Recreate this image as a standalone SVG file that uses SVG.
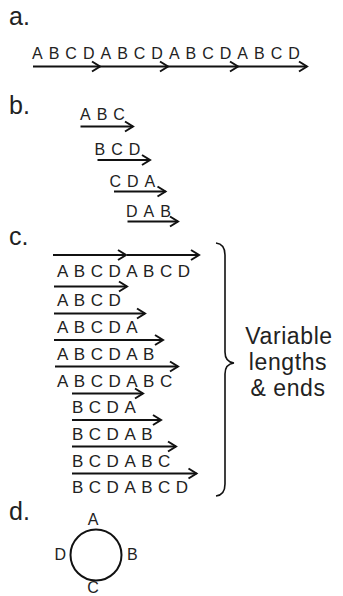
<svg xmlns="http://www.w3.org/2000/svg" width="343" height="596" viewBox="0 0 343 596">
<style>
.lbl{font-family:"Liberation Sans",Arial,sans-serif;font-size:25px;fill:#222}
.sa{font-family:"Liberation Sans",Arial,sans-serif;font-size:16px;letter-spacing:6px;fill:#222}
.sc{font-family:"Liberation Sans",Arial,sans-serif;font-size:17px;letter-spacing:5.5px;fill:#222}
.sd{font-family:"Liberation Sans",Arial,sans-serif;font-size:16px;fill:#222}
.sv{font-family:"Liberation Sans",Arial,sans-serif;font-size:23px;letter-spacing:0.6px;fill:#222;text-anchor:middle}
.arr{stroke:#111;stroke-width:2.2;fill:none;marker-end:url(#ah)}
</style>
<defs>
<marker id="ah" viewBox="-10 -7 12 14" refX="0" refY="0" markerWidth="12" markerHeight="14" markerUnits="userSpaceOnUse" orient="auto">
<path d="M-8,-5 L0,0 L-8,5" fill="none" stroke="#111" stroke-width="2"/>
</marker>
</defs>
<rect width="343" height="596" fill="#fff"/>

<g id="label-a"><text class="lbl" x="9" y="25">a.</text></g>
<g id="label-b"><text class="lbl" x="9" y="114">b.</text></g>
<g id="label-c"><text class="lbl" x="9" y="245">c.</text></g>
<g id="label-d"><text class="lbl" x="9" y="520">d.</text></g>

<g id="section-a">
<text class="sa" x="32" y="59">ABCDABCDABCDABCD</text>
</g>

<g id="section-b">
<text class="sa" x="80" y="120">ABC</text>
<text class="sa" x="94.5" y="155">BCD</text>
<text class="sa" x="109.5" y="187">CDA</text>
<text class="sa" x="126" y="217">DAB</text>
</g>

<g id="section-c">
<text class="sc" x="57" y="277">ABCDABCD</text>
<text class="sc" x="57" y="306">ABCD</text>
<text class="sc" x="57" y="333">ABCDA</text>
<text class="sc" x="57" y="360">ABCDAB</text>
<text class="sc" x="57" y="387">ABCDABC</text>
<text class="sc" x="72" y="413">BCDA</text>
<text class="sc" x="72" y="440">BCDAB</text>
<text class="sc" x="72" y="467">BCDABC</text>
<text class="sc" x="72" y="493">BCDABCD</text>
</g>

<g id="brace-label">
<path d="M216,243 Q225,244 225,255 L225,352 Q225,362 234,363 Q225,364 225,374 L225,484 Q225,495 216,496" fill="none" stroke="#111" stroke-width="1.6"/>
<text class="sv" x="289" y="344">Variable</text>
<text class="sv" x="288" y="370">lengths</text>
<text class="sv" x="288" y="396">&amp; ends</text>
</g>

<g id="section-d">
<circle cx="96" cy="555" r="25.5" fill="none" stroke="#111" stroke-width="2"/>
<text class="sd" x="93" y="525" text-anchor="middle">A</text>
<text class="sd" x="127" y="560">B</text>
<text class="sd" x="93" y="593" text-anchor="middle">C</text>
<text class="sd" x="66" y="560" text-anchor="end">D</text>
</g>

<g id="connectors">
<line class="arr" x1="33" y1="66.5" x2="100" y2="66.5"/>
<line class="arr" x1="100" y1="66.5" x2="168" y2="66.5"/>
<line class="arr" x1="168" y1="66.5" x2="238" y2="66.5"/>
<line class="arr" x1="238" y1="66.5" x2="307" y2="66.5"/>

<line class="arr" x1="80.5" y1="126.5" x2="133" y2="126.5"/>
<line class="arr" x1="97.5" y1="160" x2="150" y2="160"/>
<line class="arr" x1="114" y1="191.5" x2="165.5" y2="191.5"/>
<line class="arr" x1="127.5" y1="221.5" x2="178" y2="221.5"/>

<line class="arr" x1="53" y1="255" x2="126" y2="255"/>
<line class="arr" x1="127" y1="255" x2="199" y2="255"/>
<line class="arr" x1="54" y1="286.5" x2="127" y2="286.5"/>
<line class="arr" x1="54" y1="313.5" x2="145" y2="313.5"/>
<line class="arr" x1="54" y1="340" x2="163" y2="340"/>
<line class="arr" x1="55" y1="366.5" x2="178" y2="366.5"/>
<line class="arr" x1="72" y1="393.5" x2="143" y2="393.5"/>
<line class="arr" x1="72" y1="420" x2="161" y2="420"/>
<line class="arr" x1="72" y1="446.5" x2="176" y2="446.5"/>
<line class="arr" x1="72" y1="473.5" x2="196.5" y2="473.5"/>
</g>
</svg>
